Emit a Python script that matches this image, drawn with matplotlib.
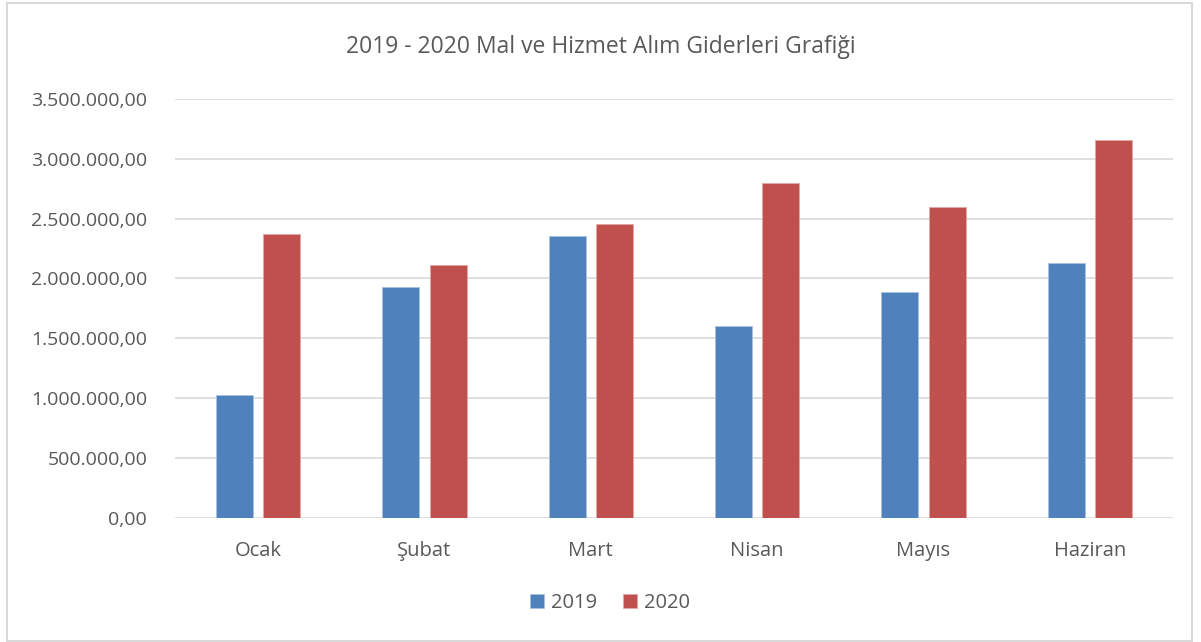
import matplotlib.pyplot as plt
import numpy as np
from matplotlib.patches import Rectangle
from matplotlib.ticker import FuncFormatter

# ========================================
# Data
# ========================================
months = ['Ocak', 'Şubat', 'Mart', 'Nisan', 'Mayıs', 'Haziran']
values_2019 = [1026000, 1929000, 2354000, 1606000, 1890000, 2128000]
values_2020 = [2375000, 2111000, 2451000, 2797000, 2596000, 3157000]
y_ticks = [0, 500000, 1000000, 1500000, 2000000, 2500000, 3000000, 3500000]

BLUE = '#4F81BD'
RED = '#C0504D'
TEXT = '#595959'
GRID = '#D9D9D9'

plt.rcParams['font.family'] = ['Open Sans', 'DejaVu Sans']


def tr_format(v, pos=None):
    # Turkish number style: 3.500.000,00
    s = f"{v:,.2f}"
    return s.replace(',', 'X').replace('.', ',').replace('X', '.')


fig = plt.figure(figsize=(12.01, 6.42), dpi=100)
W, H = 1201, 642
ax = fig.add_axes([175 / W, 1 - 517.7 / H, (1173 - 175) / W, (517.7 - 99) / H])

x = np.arange(len(months))
width = 0.222
offset = 0.143
ax.bar(x - offset, values_2019, width, color=BLUE, edgecolor='#A9C1E0',
       linewidth=0.6, label='2019', zorder=3)
ax.bar(x + offset, values_2020, width, color=RED, edgecolor='#E3A6A4',
       linewidth=0.6, label='2020', zorder=3)

ax.set_xlim(-0.5, len(months) - 0.5)
ax.set_ylim(0, 3500000)
ax.set_yticks(y_ticks)
ax.yaxis.set_major_formatter(FuncFormatter(tr_format))
ax.set_xticks(x)
ax.set_xticklabels(months)

ax.grid(True, axis='y', color=GRID, linewidth=1.2, zorder=0)
for s in ax.spines.values():
    s.set_visible(False)
ax.tick_params(axis='both', length=0, colors=TEXT)
ax.tick_params(axis='y', pad=20, labelsize=14)
ax.tick_params(axis='x', pad=17, labelsize=14.5)

fig.text(0.5, 1 - 47 / H, '2019 - 2020 Mal ve Hizmet Alım Giderleri Grafiği',
         ha='center', va='center', fontsize=16.5, color=TEXT)

fig.legend(loc='center', bbox_to_anchor=(610 / W, 1 - 603 / H), ncol=2, frameon=False,
           fontsize=14.5, handlelength=0.7, handleheight=0.7, handletextpad=0.35,
           columnspacing=1.3, labelcolor=TEXT)

# outer chart border
fig.patches.append(Rectangle((7 / W, 1 / H), 1185 / W, 638 / H, transform=fig.transFigure,
                             fill=False, edgecolor=GRID, linewidth=1.5))

plt.savefig('out.png', dpi=100)
